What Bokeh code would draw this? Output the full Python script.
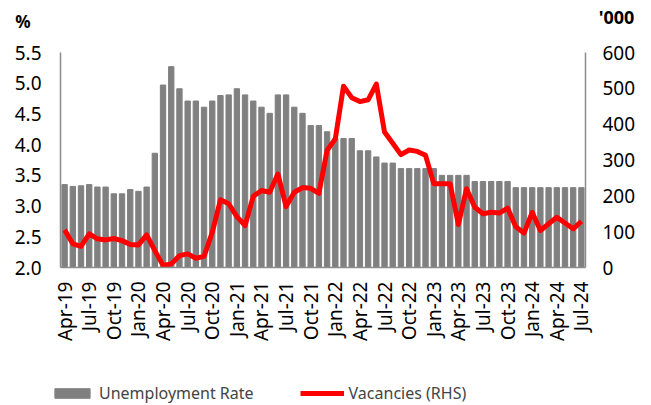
import math
from bokeh.plotting import figure
from bokeh.models import (Range1d, LinearAxis, FixedTicker, PrintfTickFormatter,
                          Legend, LegendItem, Label, ColumnDataSource)
from bokeh.embed import file_html
from bokeh.resources import INLINE

# ---- data (monthly, Apr-19 .. Jul-24) ----
month_names = ["Jan", "Feb", "Mar", "Apr", "May", "Jun", "Jul", "Aug", "Sep", "Oct", "Nov", "Dec"]
months = []
for k in range(64):
    m = (3 + k) % 12
    yy = 19 + (3 + k) // 12
    months.append(f"{month_names[m]}-{yy}")

unemployment = [3.35, 3.32, 3.33, 3.35, 3.31, 3.31, 3.20, 3.20, 3.27, 3.24, 3.31, 3.86,
                4.97, 5.27, 4.91, 4.71, 4.71, 4.61, 4.71, 4.80, 4.81, 4.91, 4.81, 4.71,
                4.61, 4.51, 4.81, 4.81, 4.61, 4.51, 4.31, 4.31, 4.21, 4.10, 4.10, 4.10,
                3.90, 3.90, 3.80, 3.70, 3.70, 3.61, 3.61, 3.61, 3.61, 3.61, 3.50, 3.50,
                3.50, 3.50, 3.40, 3.40, 3.40, 3.40, 3.40, 3.30, 3.30, 3.30, 3.30, 3.30,
                3.30, 3.30, 3.30, 3.30]

vacancies = [105, 66, 59, 94, 80, 77, 81, 75, 64, 63, 91, 47,
             6, 10, 33, 38, 26, 31, 98, 189, 178, 142, 117, 199,
             215, 210, 261, 170, 210, 223, 221, 207, 327, 359, 506, 474,
             463, 468, 512, 378, 347, 315, 328, 324, 313, 234, 234, 234,
             120, 220, 168, 150, 154, 152, 166, 114, 96, 154, 103, 122,
             140, 124, 108, 129]

tick_labels = ["Apr-19", "Jul-19", "Oct-19", "Jan-20", "Apr-20", "Jul-20", "Oct-20",
               "Jan-21", "Apr-21", "Jul-21", "Oct-21", "Jan-22", "Apr-22", "Jul-22",
               "Oct-22", "Jan-23", "Apr-23", "Jul-23", "Oct-23", "Jan-24", "Apr-24", "Jul-24"]

left_ticks = [2.0, 2.5, 3.0, 3.5, 4.0, 4.5, 5.0, 5.5]
right_ticks = [0, 100, 200, 300, 400, 500, 600]

x = list(range(len(months)))
src = ColumnDataSource(dict(x=x, month=months, unemp=unemployment, vac=vacancies))

FONT = "Noto Sans"
AXIS_GRAY = "#8c8c8c"

# ---- layout geometry (pixels in the 651x405 canvas) ----
W, H = 651, 405
PL, PR, PT, PB = 60, 585, 52, 267          # plot area edges
n = len(months)
LY0, LY1 = left_ticks[0], left_ticks[-1]
RY0, RY1 = right_ticks[0], right_ticks[-1]

xs = (PR - PL) / n
x0 = -0.5 - PL / xs
x1 = (n - 0.5) + (W - PR) / xs
ys = (PB - PT) / (LY1 - LY0)
y0 = LY0 - (H - PB) / ys
y1 = LY1 + PT / ys
rs = (PB - PT) / (RY1 - RY0)
r0 = RY0 - (H - PB) / rs
r1 = RY1 + PT / rs

p = figure(width=W, height=H, output_backend="svg", toolbar_location=None,
           x_range=Range1d(x0, x1), y_range=Range1d(y0, y1), min_border=0)
p.extra_y_ranges = {"vac": Range1d(r0, r1)}
p.xgrid.visible = False
p.ygrid.visible = False
p.outline_line_color = None
p.background_fill_color = "white"
p.border_fill_color = "white"

bars = p.vbar(x="x", top="unemp", bottom=LY0, width=0.65, color="#808080", source=src)
line = p.line(x="x", y="vac", y_range_name="vac", line_color="#FF0000", line_width=5,
              line_join="round", source=src)

right = LinearAxis(y_range_name="vac")
p.add_layout(right, "right")


def style(ax, standoff):
    ax.axis_line_color = AXIS_GRAY
    ax.axis_line_width = 1.5
    ax.major_tick_in = 0
    ax.major_tick_out = 0
    ax.minor_tick_in = 0
    ax.minor_tick_out = 0
    ax.major_label_text_font = FONT
    ax.major_label_text_font_size = "19px"
    ax.major_label_text_color = "black"
    ax.major_label_standoff = standoff


xa = p.xaxis[0]
style(xa, 14)
xa.ticker = FixedTicker(ticks=list(range(0, n, 3)))
xa.major_label_overrides = {i: lbl for i, lbl in zip(range(0, n, 3), tick_labels)}
xa.major_label_orientation = math.pi / 2
xa.fixed_location = LY0
xa.bounds = (-0.5, n - 0.5)

ya = p.yaxis[0]
style(ya, 19)
ya.ticker = FixedTicker(ticks=left_ticks)
ya.formatter = PrintfTickFormatter(format="%.1f")
ya.fixed_location = -0.5
ya.bounds = (LY0, LY1)

style(right, 17)
right.ticker = FixedTicker(ticks=right_ticks)
right.fixed_location = n - 0.5
right.bounds = (RY0, RY1)

p.add_layout(Label(x=22.5, y=H - 21, x_units="screen", y_units="screen", text="%",
                   text_align="center", text_baseline="middle", text_font=FONT,
                   text_font_size="17px", text_font_style="bold", text_color="black"))
p.add_layout(Label(x=616, y=H - 16, x_units="screen", y_units="screen", text="'000",
                   text_align="center", text_baseline="middle", text_font=FONT,
                   text_font_size="18px", text_font_style="bold", text_color="black"))

legend = Legend(items=[LegendItem(label="Unemployment Rate", renderers=[bars]),
                       LegendItem(label="Vacancies (RHS)", renderers=[line])],
                orientation="horizontal", location=(50, H - 404),
                glyph_width=44, glyph_height=12, label_standoff=5, spacing=46,
                padding=0, margin=0, border_line_alpha=0, background_fill_alpha=0,
                label_text_font=FONT, label_text_font_size="16px", label_height=16)
p.add_layout(legend, "center")

open("out.html", "w").write(file_html(p, INLINE))
